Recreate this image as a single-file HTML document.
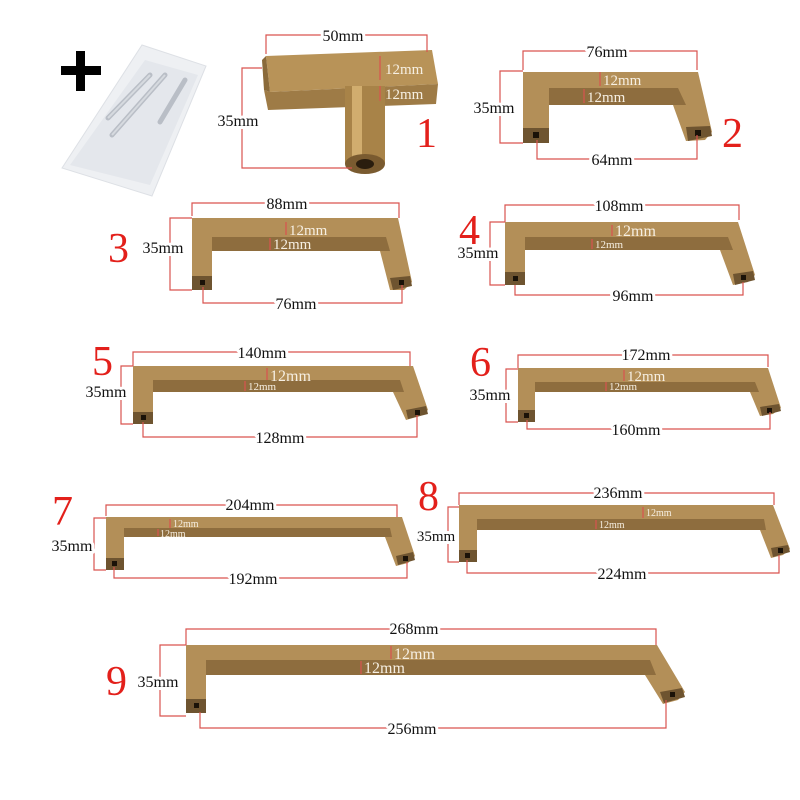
<!DOCTYPE html>
<html><head><meta charset="utf-8"><style>
html,body{margin:0;padding:0;background:#fff}
svg{display:block}
text{font-family:"Liberation Serif",serif}
.d{fill:none;stroke:#d9534f;stroke-width:1.2}
.l{font-size:16px;fill:#111;text-anchor:middle;stroke:#fff;stroke-width:6px;paint-order:stroke;stroke-linejoin:round}
.w{font-family:"Liberation Serif",serif;fill:#f6efe2}
.n{font-size:42px;fill:#e3201b}
.g{fill:#b38f58}
.u{fill:#8e6d3e}
.f{fill:#6e5430}
.h{fill:#1a1208}
</style></head><body>
<svg width="800" height="800" viewBox="0 0 800 800" xmlns="http://www.w3.org/2000/svg">
<rect width="800" height="800" fill="#fff"/>
<rect x="61" y="66" width="40" height="9" fill="#000"/>
<rect x="76" y="51" width="9" height="40" fill="#000"/>
<polygon points="62,168 142,45 206,66 152,196" fill="#eef0f3" stroke="#dde0e5"/>
<polygon points="70,165 145,60 198,75 150,185" fill="#e4e7ec"/>
<g stroke="#b9bec6" stroke-width="5" stroke-linecap="round">
<line x1="108" y1="118" x2="150" y2="75"/>
<line x1="112" y1="135" x2="165" y2="75"/>
<line x1="160" y1="122" x2="185" y2="80"/>
</g>
<g stroke="#d6dadf" stroke-width="2"><line x1="108" y1="118" x2="150" y2="75"/><line x1="112" y1="135" x2="165" y2="75"/></g>

<!-- Handle 1 -->
<polygon points="266,56 432,50 438,84 270,92" fill="#b89358"/>
<polygon points="270,92 438,84 436,104 268,110 264,90" fill="#9e7b46"/>
<polygon points="266,56 270,92 264,90 262,60" fill="#8a6a3a"/>
<rect x="345" y="86" width="40" height="78" fill="#a88348"/>
<rect x="352" y="86" width="10" height="78" fill="#d1ad6e"/>
<ellipse cx="365" cy="164" rx="20" ry="10" fill="#7a5b30"/>
<ellipse cx="365" cy="164" rx="9" ry="5" fill="#2a1d0e"/>
<polyline class="d" points="266,54 266,35 427,35 427,52"/>
<text class="l" x="343" y="41">50mm</text>
<polyline class="d" points="262,68 242,68 242,168 352,168"/>
<text class="l" x="238" y="126">35mm</text>
<line class="d" x1="380" y1="56" x2="380" y2="80"/><line class="d" x1="380" y1="86" x2="380" y2="101"/>
<text class="w" x="385" y="74" font-size="15">12mm</text>
<text class="w" x="385" y="99" font-size="15">12mm</text>
<text class="n" x="416" y="147">1</text>

<!-- 2 -->
<polygon class="g" points="523,72 698,72 712,132 705,140 686,141 673,105 549,105 549,143 523,143"/>
<polygon class="u" points="549,88 678,88 686,105 549,105"/>
<rect class="f" x="523" y="128" width="26" height="15"/><rect class="h" x="533" y="132" width="6" height="6"/>
<polygon class="f" points="686,127 710,126 712,136 688,141"/><rect class="h" x="695" y="130" width="6" height="6"/>
<polyline class="d" points="523,70 523,51 697,51 697,70"/>
<text class="l" x="607" y="57">76mm</text>
<polyline class="d" points="523,71 500,71 500,143 523,143"/>
<text class="l" x="494" y="113">35mm</text>
<polyline class="d" points="537,140 537,159 697,159 697,135"/>
<text class="l" x="612" y="165">64mm</text>
<line class="d" x1="600" y1="72" x2="600" y2="86"/><text class="w" x="603" y="85" font-size="15">12mm</text>
<line class="d" x1="584" y1="89" x2="584" y2="103"/><text class="w" x="587" y="102" font-size="15">12mm</text>
<text class="n" x="722" y="147">2</text>

<!-- 3 -->
<polygon class="g" points="192,218 398,218 412,282 404,290 390,290 380,251 212,251 212,290 192,290"/>
<polygon class="u" points="212,237 386,237 390,251 212,251"/>
<rect class="f" x="192" y="276" width="20" height="14"/><rect class="h" x="200" y="280" width="5" height="5"/>
<polygon class="f" points="390,278 410,276 412,286 393,290"/><rect class="h" x="399" y="280" width="5" height="5"/>
<polyline class="d" points="192,216 192,203 399,203 399,218"/>
<text class="l" x="287" y="209">88mm</text>
<polyline class="d" points="192,218 170,218 170,290 192,290"/>
<text class="l" x="163" y="253">35mm</text>
<polyline class="d" points="203,287 203,303 402,303 402,285"/>
<text class="l" x="296" y="309">76mm</text>
<line class="d" x1="286" y1="222" x2="286" y2="235"/><text class="w" x="289" y="235" font-size="15">12mm</text>
<line class="d" x1="270" y1="238" x2="270" y2="250"/><text class="w" x="273" y="249" font-size="15">12mm</text>
<text class="n" x="108" y="262">3</text>

<!-- 4 -->
<polygon class="g" points="505,222 738,222 755,275 748,282 733,285 720,250 525,250 525,285 505,285"/>
<polygon class="u" points="525,237 728,237 733,250 525,250"/>
<rect class="f" x="505" y="272" width="20" height="13"/><rect class="h" x="513" y="276" width="5" height="5"/>
<polygon class="f" points="733,274 753,271 755,280 735,285"/><rect class="h" x="741" y="275" width="5" height="5"/>
<polyline class="d" points="505,222 505,205 739,205 739,220"/>
<text class="l" x="619" y="211">108mm</text>
<polyline class="d" points="505,222 490,222 490,285 505,285"/>
<text class="l" x="478" y="258">35mm</text>
<polyline class="d" points="515,285 515,295 743,295 743,282"/>
<text class="l" x="633" y="301">96mm</text>
<line class="d" x1="612" y1="225" x2="612" y2="236"/><text class="w" x="615" y="236" font-size="16">12mm</text>
<line class="d" x1="592" y1="239" x2="592" y2="249"/><text class="w" x="595" y="248" font-size="11">12mm</text>
<text class="n" x="459" y="244">4</text>

<!-- 5 -->
<polygon class="g" points="133,366 413,366 428,410 420,416 406,420 393,392 153,392 153,424 133,424"/>
<polygon class="u" points="153,380 400,380 404,392 153,392"/>
<rect class="f" x="133" y="412" width="20" height="12"/><rect class="h" x="141" y="415" width="5" height="5"/>
<polygon class="f" points="406,410 426,406 428,414 408,419"/><rect class="h" x="415" y="410" width="5" height="5"/>
<polyline class="d" points="133,366 133,352 410,352 410,366"/>
<text class="l" x="262" y="358">140mm</text>
<polyline class="d" points="133,366 121,366 121,424 133,424"/>
<text class="l" x="106" y="397">35mm</text>
<polyline class="d" points="143,422 143,437 417,437 417,415"/>
<text class="l" x="280" y="443">128mm</text>
<line class="d" x1="267" y1="368" x2="267" y2="380"/><text class="w" x="270" y="381" font-size="16">12mm</text>
<line class="d" x1="245" y1="381" x2="245" y2="391"/><text class="w" x="248" y="390" font-size="11">12mm</text>
<text class="n" x="92" y="375">5</text>

<!-- 6 -->
<polygon class="g" points="518,368 768,368 781,408 773,414 760,416 750,392 535,392 535,422 518,422"/>
<polygon class="u" points="535,382 755,382 759,392 535,392"/>
<rect class="f" x="518" y="410" width="17" height="12"/><rect class="h" x="524" y="413" width="5" height="5"/>
<polygon class="f" points="760,407 779,404 781,411 762,416"/><rect class="h" x="767" y="408" width="5" height="5"/>
<polyline class="d" points="518,368 518,355 768,355 768,367"/>
<text class="l" x="646" y="360">172mm</text>
<polyline class="d" points="518,369 506,369 506,422 518,422"/>
<text class="l" x="490" y="400">35mm</text>
<polyline class="d" points="527,420 527,429 770,429 770,412"/>
<text class="l" x="636" y="435">160mm</text>
<line class="d" x1="624" y1="370" x2="624" y2="381"/><text class="w" x="627" y="381" font-size="15">12mm</text>
<line class="d" x1="606" y1="382" x2="606" y2="391"/><text class="w" x="609" y="390" font-size="11">12mm</text>
<text class="n" x="470" y="376">6</text>

<!-- 7 -->
<polygon class="g" points="106,517 402,517 415,556 408,563 396,566 385,537 124,537 124,570 106,570"/>
<polygon class="u" points="124,528 390,528 392,537 124,537"/>
<rect class="f" x="106" y="558" width="18" height="12"/><rect class="h" x="112" y="561" width="5" height="5"/>
<polygon class="f" points="396,556 413,552 415,560 398,565"/><rect class="h" x="403" y="556" width="5" height="5"/>
<polyline class="d" points="106,516 106,505 397,505 397,517"/>
<text class="l" x="250" y="510">204mm</text>
<polyline class="d" points="106,518 94,518 94,570 106,570"/>
<text class="l" x="72" y="551">35mm</text>
<polyline class="d" points="114,567 114,578 407,578 407,562"/>
<text class="l" x="253" y="584">192mm</text>
<line class="d" x1="170" y1="519" x2="170" y2="528"/><text class="w" x="173" y="527" font-size="10">12mm</text>
<line class="d" x1="158" y1="529" x2="158" y2="536"/><text class="w" x="160" y="537" font-size="10">12mm</text>
<text class="n" x="52" y="525">7</text>

<!-- 8 -->
<polygon class="g" points="459,505 773,505 790,549 783,555 771,558 760,530 477,530 477,562 459,562"/>
<polygon class="u" points="477,519 764,519 766,530 477,530"/>
<rect class="f" x="459" y="550" width="18" height="12"/><rect class="h" x="465" y="553" width="5" height="5"/>
<polygon class="f" points="771,548 788,545 790,552 773,557"/><rect class="h" x="778" y="548" width="5" height="5"/>
<polyline class="d" points="459,505 459,493 774,493 774,505"/>
<text class="l" x="618" y="498">236mm</text>
<polyline class="d" points="459,507 448,507 448,562 459,562"/>
<text class="l" x="436" y="541" style="font-size:15px">35mm</text>
<polyline class="d" points="467,560 467,573 779,573 779,555"/>
<text class="l" x="622" y="579">224mm</text>
<line class="d" x1="643" y1="507" x2="643" y2="518"/><text class="w" x="646" y="516" font-size="10">12mm</text>
<line class="d" x1="596" y1="520" x2="596" y2="529"/><text class="w" x="599" y="528" font-size="10">12mm</text>
<text class="n" x="418" y="510">8</text>

<!-- 9 -->
<polygon class="g" points="186,645 657,645 685,692 678,700 663,704 645,675 206,675 206,713 186,713"/>
<polygon class="u" points="206,660 650,660 656,675 206,675"/>
<rect class="f" x="186" y="699" width="20" height="14"/><rect class="h" x="194" y="703" width="5" height="5"/>
<polygon class="f" points="660,692 682,688 685,697 664,703"/><rect class="h" x="670" y="692" width="5" height="5"/>
<polyline class="d" points="186,645 186,629 656,629 656,645"/>
<text class="l" x="414" y="634">268mm</text>
<polyline class="d" points="186,645 160,645 160,716 186,716"/>
<text class="l" x="158" y="687">35mm</text>
<polyline class="d" points="200,712 200,728 666,728 666,700"/>
<text class="l" x="412" y="734">256mm</text>
<line class="d" x1="391" y1="646" x2="391" y2="659"/><text class="w" x="394" y="659" font-size="16">12mm</text>
<line class="d" x1="361" y1="661" x2="361" y2="674"/><text class="w" x="364" y="673" font-size="16">12mm</text>
<text class="n" x="106" y="695">9</text>
</svg>
</body></html>
